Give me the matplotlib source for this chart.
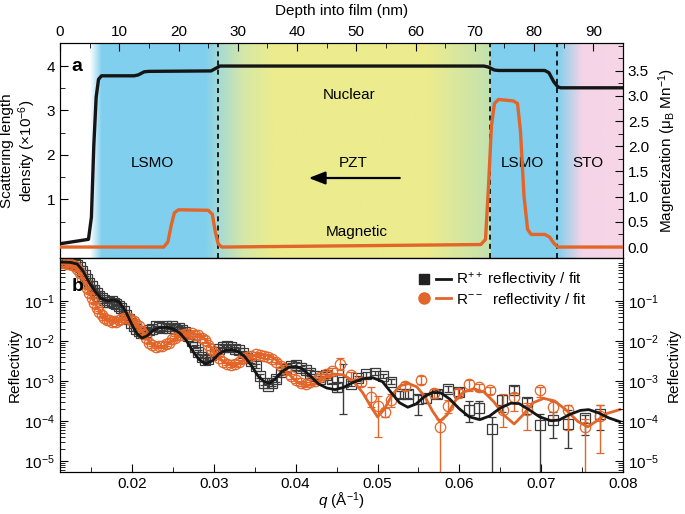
import numpy as np
import matplotlib
matplotlib.use('Agg')
import matplotlib.pyplot as plt
from matplotlib.lines import Line2D
from matplotlib.legend_handler import HandlerTuple
from matplotlib.colors import to_rgb
from matplotlib.ticker import MultipleLocator, LogLocator, NullFormatter, FixedLocator

plt.rcParams['font.family'] = ['Liberation Sans', 'DejaVu Sans']
plt.rcParams['mathtext.fontset'] = 'custom'
plt.rcParams['mathtext.rm'] = 'Liberation Sans'
plt.rcParams['mathtext.it'] = 'Liberation Sans:italic'
plt.rcParams['mathtext.bf'] = 'Liberation Sans:bold'
plt.rcParams['font.size'] = 11

# ---- panel a: depth profiles ----
depth_nuc = [0, 4.8, 5.3, 5.7, 6.1, 6.5, 7.0, 12.5, 13.2, 14.2, 15.0, 25.5, 26.3, 27.0,
             71.5, 72.2, 73.3, 74.0, 81.8, 82.5, 83.3, 84.0, 84.5, 95]
sld_nuc = [0.0, 0.10, 0.6, 2.2, 3.3, 3.7, 3.78, 3.78, 3.80, 3.87, 3.88, 3.89, 3.95, 4.0,
           4.0, 3.98, 3.91, 3.90, 3.90, 3.85, 3.65, 3.53, 3.51, 3.51]

depth_mag = [0, 17.5, 18.2, 18.8, 19.3, 20.0, 25.0, 25.7, 26.2, 26.7, 27.3, 71.0, 71.8,
             72.3, 72.8, 73.3, 74.0, 76.5, 77.2, 77.7, 78.3, 78.9, 79.5, 81.8, 82.6, 83.3, 84.0, 95]
mag = [0.0, 0.0, 0.1, 0.45, 0.68, 0.74, 0.73, 0.65, 0.3, 0.06, 0.0, 0.05, 0.15,
       1.2, 2.4, 2.85, 2.93, 2.90, 2.85, 2.3, 1.0, 0.35, 0.25, 0.25, 0.2, 0.08, 0.0, 0.0]

interfaces = [26.7, 72.6, 83.8]

# ---- panel b: reflectivity ----
q_pp = [0.0112, 0.0115, 0.0118, 0.0121, 0.0124, 0.0127, 0.0130, 0.0133, 0.0136, 0.0139,
        0.0142, 0.0145, 0.0148, 0.0151, 0.0154, 0.0157, 0.0160, 0.0163, 0.0166, 0.0169,
        0.0172, 0.0175, 0.0178, 0.0181, 0.0184, 0.0187, 0.0190, 0.0193, 0.0196, 0.0199,
        0.0202, 0.0205, 0.0208, 0.0211, 0.0214, 0.0217, 0.0221, 0.0225, 0.0229, 0.0233,
        0.0237, 0.0241, 0.0245, 0.0249, 0.0253, 0.0257, 0.0261, 0.0265, 0.0269, 0.0273,
        0.0277, 0.0281, 0.0285, 0.0289, 0.0293, 0.0297, 0.0301, 0.0306, 0.0311, 0.0316,
        0.0321, 0.0326, 0.0331, 0.0336, 0.0341, 0.0346, 0.0351, 0.0356, 0.0361, 0.0366,
        0.0371, 0.0376, 0.0382, 0.0388, 0.0394, 0.0400, 0.0406, 0.0412, 0.0418, 0.0424,
        0.0430, 0.0437, 0.0444, 0.0451, 0.0458, 0.0468, 0.0476, 0.0486, 0.0497, 0.0507,
        0.0517, 0.0527, 0.0537, 0.0549, 0.0559, 0.0573, 0.0586, 0.0600, 0.0612, 0.0624,
        0.0640, 0.0652, 0.0667, 0.0683, 0.0699, 0.0715, 0.0733, 0.0753, 0.0772]
logR_pp = [-0.03, -0.03, -0.02, -0.03, -0.04, -0.05, -0.07, -0.10, -0.16, -0.25,
           -0.36, -0.46, -0.55, -0.64, -0.72, -0.80, -0.88, -0.94, -0.98, -1.02,
           -1.03, -1.00, -1.05, -1.09, -1.12, -1.18, -1.26, -1.35, -1.45, -1.55,
           -1.62, -1.70, -1.76, -1.80, -1.78, -1.77, -1.72, -1.70, -1.64, -1.65,
           -1.68, -1.63, -1.67, -1.64, -1.70, -1.67, -1.73, -1.78, -1.88, -2.00,
           -2.15, -2.28, -2.40, -2.47, -2.45, -2.36, -2.28, -2.20, -2.15, -2.12,
           -2.16, -2.20, -2.24, -2.30, -2.42, -2.50, -2.62, -2.88, -3.05, -3.14,
           -3.05, -2.95, -2.78, -2.70, -2.62, -2.60, -2.68, -2.74, -2.80, -2.88,
           -2.95, -2.86, -2.95, -3.15, -3.02, -3.07, -2.94, -2.84, -2.80, -2.88,
           -3.02, -3.34, -3.32, -3.46, -3.44, -3.32, -3.20, -3.27, -3.72, -3.69,
           -4.21, -3.47, -3.23, -3.52, -4.11, -3.98, -4.07, -3.94, -3.82]
errhi_pp = [0.02] * 40 + [0.04] * 20 + [0.05] * 10 + [0.06] * 10 + \
           [0.07, 0.07, 0.08, 0.10, 0.45, 0.06, 0.05, 0.05, 0.05, 0.05,
            0.06, 0.08, 0.10, 0.10, 0.10, 0.08, 0.06, 0.10, 0.22, 0.18,
            0.30, 0.12, 0.10, 0.08, 0.29, 0.21, 0.34, 0.08, 0.21]
errlo_pp = [0.02] * 40 + [0.04] * 20 + [0.05] * 10 + [0.07] * 10 + \
           [0.08, 0.08, 0.10, 0.12, 0.80, 0.07, 0.06, 0.06, 0.06, 0.06,
            0.07, 0.10, 0.12, 0.40, 0.12, 0.10, 0.08, 0.12, 0.32, 0.27,
            9, 0.30, 0.12, 0.30, 9, 0.46, 0.62, 0.42, 0.41]

q_mm = [0.0112, 0.0115, 0.0118, 0.0121, 0.0124, 0.0127, 0.0130, 0.0133, 0.0136, 0.0139,
        0.0142, 0.0145, 0.0148, 0.0151, 0.0154, 0.0157, 0.0160, 0.0163, 0.0166, 0.0169,
        0.0172, 0.0175, 0.0178, 0.0181, 0.0184, 0.0187, 0.0190, 0.0193, 0.0196, 0.0199,
        0.0202, 0.0205, 0.0208, 0.0211, 0.0214, 0.0217, 0.0221, 0.0225, 0.0229, 0.0233,
        0.0237, 0.0241, 0.0245, 0.0249, 0.0253, 0.0257, 0.0261, 0.0265, 0.0269, 0.0273,
        0.0277, 0.0281, 0.0285, 0.0289, 0.0293, 0.0297, 0.0301, 0.0306, 0.0311, 0.0316,
        0.0321, 0.0326, 0.0331, 0.0336, 0.0341, 0.0346, 0.0351, 0.0356, 0.0361, 0.0366,
        0.0371, 0.0376, 0.0382, 0.0388, 0.0394, 0.0400, 0.0406, 0.0412, 0.0418, 0.0424,
        0.0430, 0.0437, 0.0444, 0.0454, 0.0468, 0.0480, 0.0492, 0.0501, 0.0509, 0.0517,
        0.0533, 0.0553, 0.0569, 0.0576, 0.0586, 0.0598, 0.0612, 0.0624, 0.0638, 0.0653,
        0.0667, 0.0683, 0.0699, 0.0715, 0.0733, 0.0753, 0.0772]
logR_mm = [-0.05, -0.06, -0.06, -0.07, -0.08, -0.10, -0.14, -0.20, -0.30, -0.42,
           -0.55, -0.68, -0.80, -0.92, -1.05, -1.18, -1.28, -1.36, -1.42, -1.47,
           -1.49, -1.53, -1.50, -1.52, -1.47, -1.46, -1.42, -1.44, -1.44, -1.48,
           -1.50, -1.58, -1.64, -1.76, -1.84, -1.94, -2.05, -2.10, -2.16, -2.13,
           -2.14, -2.08, -2.05, -1.96, -1.93, -1.86, -1.86, -1.82, -1.83, -1.80,
           -1.85, -1.86, -1.92, -1.98, -2.10, -2.20, -2.32, -2.42, -2.52, -2.57,
           -2.61, -2.57, -2.52, -2.44, -2.40, -2.37, -2.34, -2.36, -2.39, -2.40,
           -2.46, -2.52, -2.62, -2.74, -2.88, -2.98, -3.06, -3.08, -3.04, -3.00,
           -2.90, -2.82, -2.75, -2.57, -2.86, -3.02, -3.40, -3.62, -3.78, -3.47,
           -3.14, -2.97, -3.30, -4.15, -3.62, -3.30, -3.07, -3.15, -3.24, -3.73,
           -3.40, -3.73, -3.23, -3.65, -3.73, -4.15, -3.87]
errhi_mm = [0.02] * 40 + [0.04] * 20 + [0.05] * 10 + [0.06] * 10 + \
           [0.07, 0.07, 0.08, 0.15, 0.08, 0.10, 0.25, 0.25, 0.10, 0.15,
            0.10, 0.10, 0.10, 0.20, 0.15, 0.10, 0.10, 0.08, 0.08, 0.41,
            0.10, 0.17, 0.08, 0.15, 0.13, 0.20, 0.27]
errlo_mm = [0.02] * 40 + [0.04] * 20 + [0.05] * 10 + [0.07] * 10 + \
           [0.08, 0.08, 0.09, 0.15, 0.09, 0.12, 0.25, 0.78, 0.12, 0.18,
            0.10, 0.10, 0.12, 9, 0.18, 0.12, 0.19, 0.10, 0.10, 0.42,
            0.35, 0.49, 0.17, 0.30, 0.50, 9, 0.94]

# fitted curves
qfit_pp = [0.0112, 0.0125, 0.0133, 0.0140, 0.0148, 0.0156, 0.0163, 0.0170, 0.0177, 0.0184,
           0.0192, 0.0200, 0.0206, 0.0212, 0.0218, 0.0226, 0.0234, 0.0242, 0.0250, 0.0258,
           0.0266, 0.0274, 0.0282, 0.0290, 0.0298, 0.0306, 0.0314, 0.0322, 0.0330, 0.0338,
           0.0346, 0.0354, 0.0362, 0.0368, 0.0375, 0.0383, 0.0392, 0.0400, 0.0408, 0.0418,
           0.0428, 0.0438, 0.0448, 0.0458, 0.0470, 0.0482, 0.0494, 0.0506, 0.0517, 0.0527,
           0.0537, 0.0547, 0.0557, 0.0567, 0.0577, 0.0588, 0.0600, 0.0612, 0.0625, 0.0637,
           0.0650, 0.0663, 0.0673, 0.0685, 0.0698, 0.0712, 0.0722, 0.0735, 0.0748, 0.0758,
           0.0770, 0.0783, 0.0796]
logfit_pp = [-0.03, -0.04, -0.08, -0.25, -0.55, -0.80, -0.95, -1.00, -0.98, -1.02,
             -1.25, -1.60, -1.82, -1.93, -1.88, -1.74, -1.67, -1.66, -1.70, -1.80,
             -1.98, -2.25, -2.47, -2.58, -2.50, -2.33, -2.24, -2.22, -2.27, -2.40,
             -2.62, -2.88, -3.03, -3.06, -2.95, -2.77, -2.66, -2.64, -2.70, -2.88,
             -3.08, -3.18, -3.22, -3.17, -3.04, -2.95, -2.92, -3.02, -3.30, -3.55,
             -3.66, -3.58, -3.40, -3.29, -3.30, -3.45, -3.70, -3.90, -3.97, -3.88,
             -3.68, -3.56, -3.57, -3.72, -3.90, -4.00, -3.98, -3.84, -3.74, -3.72,
             -3.80, -3.93, -4.02]
qfit_mm = [0.0112, 0.0125, 0.0132, 0.0140, 0.0148, 0.0156, 0.0164, 0.0172, 0.0180, 0.0188,
           0.0196, 0.0204, 0.0212, 0.0220, 0.0230, 0.0238, 0.0246, 0.0256, 0.0266, 0.0276,
           0.0284, 0.0292, 0.0300, 0.0310, 0.0320, 0.0328, 0.0336, 0.0346, 0.0358, 0.0368,
           0.0378, 0.0390, 0.0402, 0.0414, 0.0424, 0.0434, 0.0446, 0.0458, 0.0470, 0.0482,
           0.0492, 0.0500, 0.0508, 0.0518, 0.0528, 0.0538, 0.0548, 0.0558, 0.0567, 0.0576,
           0.0585, 0.0595, 0.0605, 0.0618, 0.0630, 0.0642, 0.0654, 0.0667, 0.0678, 0.0690,
           0.0703, 0.0716, 0.0730, 0.0745, 0.0757, 0.0768, 0.0780, 0.0796]
logfit_mm = [-0.05, -0.08, -0.16, -0.45, -0.80, -1.12, -1.35, -1.47, -1.50, -1.46,
             -1.44, -1.52, -1.75, -2.00, -2.14, -2.15, -2.05, -1.90, -1.84, -1.82,
             -1.86, -2.02, -2.28, -2.50, -2.60, -2.60, -2.50, -2.38, -2.34, -2.37,
             -2.50, -2.80, -3.04, -3.12, -3.06, -2.92, -2.83, -2.85, -3.00, -3.30,
             -3.65, -3.90, -3.72, -3.35, -3.12, -3.07, -3.15, -3.40, -3.75, -4.02,
             -3.85, -3.50, -3.28, -3.20, -3.28, -3.52, -3.85, -4.08, -3.85, -3.55,
             -3.44, -3.50, -3.72, -4.02, -4.15, -4.00, -3.82, -3.72]

# ---- styles ----
orange = '#e2662a'
black = '#151515'
dark = '#3a3a3a'
bg_pos = [0, 5.0, 7.0, 24.5, 27.0, 31.0, 36.0, 62.0, 72.5, 72.6, 83.8, 88.0, 95]
bg_col = ['#ffffff', '#ffffff', '#80cfee', '#80cfee', '#a9dbd2', '#d6e8a6', '#ecec8e',
          '#ecec8e', '#c3e2b0', '#80cfee', '#80cfee', '#f4d4e6', '#f6d6e6']

fig = plt.figure(figsize=(6.85, 5.14), dpi=100)
ax_a = fig.add_axes([0.0876, 0.498, 0.8219, 0.4183])
ax_b = fig.add_axes([0.0876, 0.0817, 0.8219, 0.4163])

# background colour bands
xs = np.linspace(0, 95, 951)
cols = np.array([to_rgb(c) for c in bg_col])
grad = np.stack([np.interp(xs, bg_pos, cols[:, k]) for k in range(3)], axis=-1)[None, :, :]
ax_a.imshow(grad, extent=[0, 95, -0.321, 4.518], aspect='auto', zorder=0,
            interpolation='bilinear')

ax_a.plot(depth_nuc, sld_nuc, color=black, lw=2.4, zorder=4)
for d in interfaces:
    ax_a.axvline(d, color='k', ls=(0, (3, 2.5)), lw=1.2, zorder=2)
ax_a.set_xlim(0, 95)
ax_a.set_ylim(-0.321, 4.518)
ax_a.xaxis.tick_top()
ax_a.xaxis.set_label_position('top')
ax_a.set_xticks(range(0, 91, 10))
ax_a.xaxis.set_minor_locator(MultipleLocator(5))
ax_a.set_xlabel('Depth into film (nm)', labelpad=7)
ax_a.set_yticks([1, 2, 3, 4])
ax_a.yaxis.set_minor_locator(FixedLocator([0.5, 1.5, 2.5, 3.5]))
ax_a.set_ylabel('Scattering length\ndensity (×10$^{-6}$)', labelpad=6)
ax_a.tick_params(axis='x', which='both', direction='in', top=True, bottom=False, pad=3)
ax_a.tick_params(axis='y', which='both', direction='in', right=False)
ax_a.tick_params(which='major', length=6)
ax_a.tick_params(which='minor', length=3.5)

ax_ar = ax_a.twinx()
ax_ar.plot(depth_mag, mag, color=orange, lw=2.4, zorder=4)
ax_ar.set_ylim(-0.218, 4.05)
ax_ar.set_yticks(np.arange(0, 3.51, 0.5))
ax_ar.set_yticklabels([f'{v:.1f}' for v in np.arange(0, 3.51, 0.5)])
ax_ar.yaxis.set_minor_locator(MultipleLocator(0.25))
ax_ar.tick_params(which='both', direction='in')
ax_ar.tick_params(which='major', length=6)
ax_ar.tick_params(which='minor', length=3.5)
ax_ar.set_ylabel('Magnetization (μ$_{\\mathrm{B}}$ Mn$^{-1}$)', labelpad=5)

ax_a.text(48.8, 3.35, 'Nuclear', ha='center', va='center', zorder=5)
ax_a.text(50, 0.26, 'Magnetic', ha='center', va='center', zorder=5)
ax_a.text(15.6, 1.81, 'LSMO', ha='center', va='center', zorder=5)
ax_a.text(49.5, 1.82, 'PZT', ha='center', va='center', zorder=5)
ax_a.text(78.0, 1.81, 'LSMO', ha='center', va='center', zorder=5)
ax_a.text(89.1, 1.81, 'STO', ha='center', va='center', zorder=5)
ax_a.annotate('', xy=(41.5, 1.48), xytext=(57.8, 1.48),
              arrowprops=dict(arrowstyle='-|>,head_length=0.9,head_width=0.35',
                              color='k', lw=1.6), zorder=5)
ax_a.text(0.021, 0.893, 'a', transform=ax_a.transAxes, fontsize=14,
          fontweight='bold', va='center', zorder=5)

# ---- panel b ----
def errs(logr, hi, lo):
    r = 10 ** np.array(logr)
    return r, [r - r * 10 ** (-np.array(lo, float)), r * 10 ** np.array(hi) - r]

r_pp, e_pp = errs(logR_pp, errhi_pp, errlo_pp)
r_mm, e_mm = errs(logR_mm, errhi_mm, errlo_mm)

ax_b.set_yscale('log')
ax_b.errorbar(q_pp, r_pp, yerr=e_pp, fmt='s', ms=6.5, mfc='none', mec=dark, mew=0.9,
              ecolor=dark, elinewidth=1.0, capsize=3, capthick=1.0, zorder=2)
ax_b.errorbar(q_mm, r_mm, yerr=e_mm, fmt='o', ms=7.5, mfc='none', mec=orange, mew=0.9,
              ecolor=orange, elinewidth=1.0, capsize=3, capthick=1.0, zorder=3)
ax_b.plot(qfit_mm, 10 ** np.array(logfit_mm), color=orange, lw=2.0, zorder=4)
ax_b.plot(qfit_pp, 10 ** np.array(logfit_pp), color=black, lw=2.0, zorder=5)

ylo, yhi = 10 ** -5.28, 10 ** 0.07
ax_b.set_xlim(0.0112, 0.0796)
ax_b.set_ylim(ylo, yhi)
ax_b.set_xticks([0.02, 0.03, 0.04, 0.05, 0.06, 0.07, 0.08])
ax_b.set_xticklabels(['0.02', '0.03', '0.04', '0.05', '0.06', '0.07', '0.08'])
ax_b.xaxis.set_minor_locator(MultipleLocator(0.005))
ax_b.set_yticks([1e-5, 1e-4, 1e-3, 1e-2, 1e-1])
ax_b.yaxis.set_minor_locator(LogLocator(base=10, subs=np.arange(2, 10), numticks=20))
ax_b.yaxis.set_minor_formatter(NullFormatter())
ax_b.tick_params(which='both', direction='in', top=False, right=False)
ax_b.tick_params(which='major', length=6)
ax_b.tick_params(which='minor', length=3.5)
ax_b.set_xlabel('$\\it{q}$ (Å$^{-1}$)', labelpad=0)
ax_b.set_ylabel('Reflectivity', labelpad=2)

ax_br = ax_b.twinx()
ax_br.set_yscale('log')
ax_br.set_ylim(ylo, yhi)
ax_br.set_yticks([1e-5, 1e-4, 1e-3, 1e-2, 1e-1])
ax_br.yaxis.set_minor_locator(LogLocator(base=10, subs=np.arange(2, 10), numticks=20))
ax_br.yaxis.set_minor_formatter(NullFormatter())
ax_br.tick_params(which='both', direction='in')
ax_br.tick_params(which='major', length=6)
ax_br.tick_params(which='minor', length=3.5)
ax_br.set_ylabel('Reflectivity', labelpad=6)

ax_b.text(0.021, 0.866, 'b', transform=ax_b.transAxes, fontsize=14,
          fontweight='bold', va='center', zorder=6)

handles = [(Line2D([], [], marker='s', ls='none', color='#222222', ms=7),
            Line2D([], [], color=black, lw=2)),
           (Line2D([], [], marker='o', ls='none', color=orange, ms=8),
            Line2D([], [], color=orange, lw=2))]
labels = ['R$^{++}$ reflectivity / fit', 'R$^{--}$  reflectivity / fit']
leg = ax_b.legend(handles, labels, handler_map={tuple: HandlerTuple(ndivide=None, pad=0.3)},
                  loc='upper right', bbox_to_anchor=(0.935, 0.94), frameon=False,
                  handlelength=2.3, handletextpad=0.3, labelspacing=0.05,
                  borderaxespad=0, borderpad=0, fontsize=11)
leg.set_zorder(10)

fig.savefig('out.png', dpi=100)
